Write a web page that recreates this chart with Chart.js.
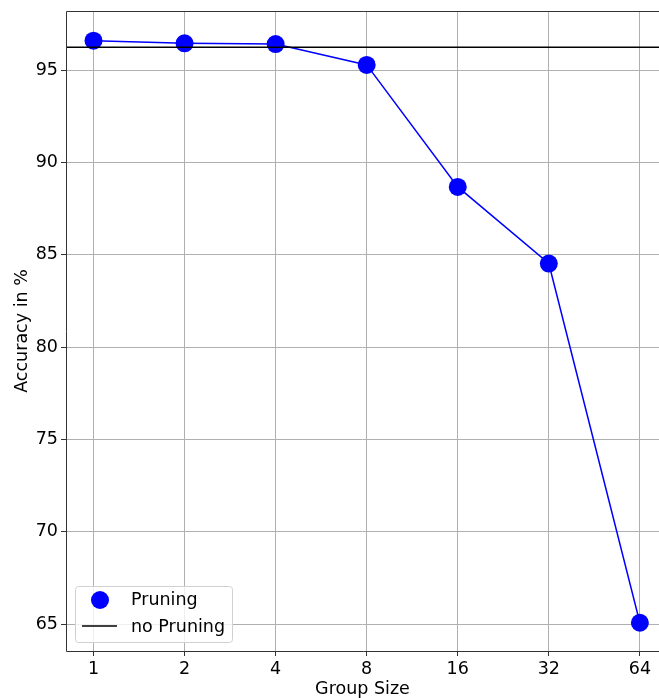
<!DOCTYPE html>
<html><head><meta charset="utf-8">
<script src="https://cdn.jsdelivr.net/npm/chart.js@4/dist/chart.umd.min.js"></script>
<style>html,body{margin:0;padding:0;background:#fff;overflow:hidden}#wrap{width:659px;height:698px;position:relative}</style>
</head><body><div id="wrap"><canvas id="c" width="659" height="698"></canvas></div>
<script>
const groupSizes = ['1','2','4','8','16','32','64'];
const pruningAcc = [96.60, 96.46, 96.42, 95.29, 88.68, 84.53, 65.07];
const noPruningAcc = 96.25;
const yTicks = [65, 70, 75, 80, 85, 90, 95];
const seriesLabels = ['Pruning', 'no Pruning'];

const FONT = "'DejaVu Sans', sans-serif";
const FS = 17.5;

const hline = {
  id: 'hline',
  afterDatasetsDraw(chart) {
    const {ctx, chartArea, scales} = chart;
    const y = scales.y.getPixelForValue(noPruningAcc);
    ctx.save();
    ctx.strokeStyle = '#000'; ctx.lineWidth = 1.5;
    ctx.beginPath(); ctx.moveTo(chartArea.left, y); ctx.lineTo(chartArea.right, y); ctx.stroke();
    ctx.restore();
  }
};
const frame = {
  id: 'frame',
  afterDraw(chart) {
    const {ctx, chartArea:a} = chart;
    ctx.save();
    ctx.strokeStyle = '#333'; ctx.lineWidth = 1;
    ctx.beginPath();
    ctx.moveTo(a.right+2, a.top+0.5); ctx.lineTo(a.left+0.5, a.top+0.5);
    ctx.lineTo(a.left+0.5, a.bottom+0.5); ctx.lineTo(a.right+2, a.bottom+0.5);
    ctx.stroke();
    // legend
    const bx = 75, by = 586, bw = 157, bh = 56;
    ctx.fillStyle = 'rgba(255,255,255,0.8)';
    ctx.strokeStyle = '#d0d0d0';
    ctx.beginPath();
    if (ctx.roundRect) ctx.roundRect(bx+0.5, by+0.5, bw, bh, 3); else ctx.rect(bx+0.5, by+0.5, bw, bh);
    ctx.fill(); ctx.stroke();
    ctx.fillStyle = '#0000ff';
    ctx.beginPath(); ctx.arc(100, 600, 9, 0, Math.PI*2); ctx.fill();
    ctx.strokeStyle = '#000'; ctx.lineWidth = 1.5;
    ctx.beginPath(); ctx.moveTo(82, 626); ctx.lineTo(117, 626); ctx.stroke();
    ctx.fillStyle = '#000'; ctx.font = FS + 'px ' + FONT; ctx.textBaseline = 'middle';
    ctx.fillText(seriesLabels[0], 131, 600);
    ctx.fillText(seriesLabels[1], 131, 627);
    ctx.restore();
  }
};

new Chart(document.getElementById('c'), {
  type: 'line',
  data: {
    datasets: [{
      label: seriesLabels[0],
      data: pruningAcc.map((v, i) => ({x: i, y: v})),
      borderColor: '#0000ff', backgroundColor: '#0000ff',
      borderWidth: 1.5, pointRadius: 9, pointHoverRadius: 9,
      pointBackgroundColor: '#0000ff', pointBorderWidth: 0, tension: 0, clip: false
    }]
  },
  options: {
    responsive: false, animation: false, devicePixelRatio: 1,
    layout: {autoPadding: false, padding: {top: 11, right: 0, bottom: 0, left: 0}},
    plugins: {legend: {display: false}, tooltip: {enabled: false}},
    scales: {
      x: {
        type: 'linear', min: -0.302, max: 6.21,
        afterBuildTicks(s) { s.ticks = groupSizes.map((_, i) => ({value: i})); },
        ticks: {callback: (v) => groupSizes[v], color: '#000', font: {family: FONT, size: FS}, padding: 3, maxRotation: 0, autoSkip: false},
        grid: {color: '#b0b0b0', lineWidth: 1, drawTicks: true, tickLength: 5, tickColor: '#333'},
        border: {display: false},
        title: {display: true, text: 'Group Size', color: '#000', font: {family: FONT, size: FS}, padding: {top: 2, bottom: -2}},
        afterFit(s) { s.height = 47; s.paddingLeft = 0; s.paddingRight = 0; }
      },
      y: {
        type: 'linear', min: 63.54, max: 98.21,
        afterBuildTicks(s) { s.ticks = yTicks.map(v => ({value: v})); },
        ticks: {color: '#000', font: {family: FONT, size: FS}, padding: 3},
        grid: {color: '#b0b0b0', lineWidth: 1, drawTicks: true, tickLength: 5, tickColor: '#333'},
        border: {display: false},
        title: {display: true, text: 'Accuracy in %', color: '#000', font: {family: FONT, size: FS}, padding: {top: 12, bottom: 4}},
        afterFit(s) { s.width = 66; s.paddingTop = 0; s.paddingBottom = 0; }
      }
    }
  },
  plugins: [hline, frame]
});
</script></body></html>
